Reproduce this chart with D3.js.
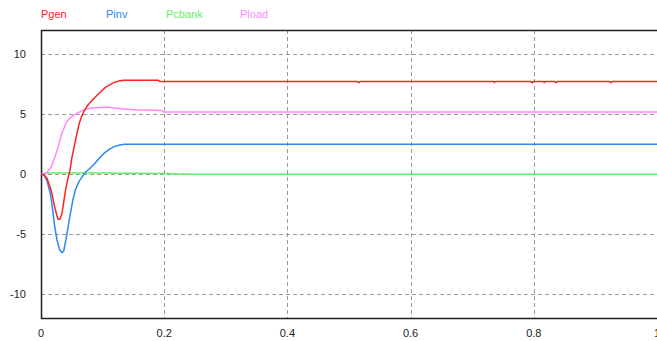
<!DOCTYPE html>
<html><head><meta charset="utf-8">
<script src="https://cdn.jsdelivr.net/npm/d3@7"></script>
<style>body{margin:0;background:#fff}svg{display:block}</style>
</head><body>
<svg id="c" width="657" height="341"></svg>
<script>
const seriesNames = ["Pgen","Pinv","Pcbank","Pload"];
const seriesColors = ["#ff2222","#2a88f0","#66ee66","#ff88ff"];
const xTicks = [0,0.2,0.4,0.6,0.8,1];
const yTicks = [-10,-5,0,5,10];

const pgen = [[0,0],[0.005,-0.05],[0.010,-0.4],[0.015,-1.1],[0.018,-1.7],[0.022,-2.7],[0.026,-3.5],[0.028,-3.8],[0.031,-3.75],[0.034,-3.3],[0.037,-2.3],[0.040,-1.3],[0.044,-0.3],[0.047,0.3],[0.050,1.3],[0.054,2.3],[0.058,3.3],[0.062,4.2],[0.066,4.8],[0.071,5.35],[0.077,5.8],[0.084,6.2],[0.090,6.5],[0.097,6.85],[0.104,7.2],[0.112,7.45],[0.120,7.65],[0.128,7.78],[0.135,7.82],[0.190,7.82],[0.193,7.7],[0.514,7.7],[0.516,7.6],[0.518,7.7],[0.735,7.7],[0.736,7.62],[0.737,7.7],[0.795,7.7],[0.797,7.6],[0.799,7.7],[0.816,7.7],[0.817,7.62],[0.818,7.7],[0.834,7.7],[0.836,7.6],[0.838,7.7],[0.923,7.7],[0.925,7.6],[0.927,7.7],[1.0,7.7]];
const pinv = [[0,0],[0.005,-0.1],[0.010,-0.6],[0.015,-1.6],[0.018,-2.6],[0.022,-4.3],[0.026,-5.5],[0.030,-6.3],[0.034,-6.55],[0.037,-6.4],[0.040,-5.6],[0.044,-4.4],[0.048,-3.2],[0.052,-2.1],[0.056,-1.3],[0.062,-0.6],[0.071,0.1],[0.080,0.5],[0.088,0.92],[0.096,1.4],[0.104,1.8],[0.112,2.1],[0.120,2.3],[0.128,2.42],[0.136,2.47],[1.0,2.47]];
const pcbank = [[0,0],[0.012,0.08],[0.100,0.08],[0.200,0.05],[0.250,-0.02],[1.0,-0.02]];
const pload = [[0,0],[0.005,0.02],[0.009,0.08],[0.017,0.63],[0.023,1.47],[0.028,2.3],[0.034,3.42],[0.042,4.38],[0.050,4.8],[0.061,5.13],[0.071,5.36],[0.082,5.5],[0.099,5.55],[0.107,5.58],[0.120,5.5],[0.136,5.42],[0.153,5.36],[0.196,5.3],[0.199,5.17],[1.0,5.17]];
const allSeries = [pgen,pinv,pcbank,pload];

(function(){
const svg = d3.select("#c");
const pL = 41, pR = 657, pT = 30, pB = 318;
const x = d3.scaleLinear().domain([0,1]).range([pL,pR]);
const y = d3.scaleLinear().domain([-12,12]).range([pB,pT]);
const font = "'Liberation Sans', Arial, sans-serif";

// grid
const g = svg.append("g");
g.selectAll("line.gx").data(xTicks.filter(t=>t>0&&t<1)).enter().append("line")
  .attr("x1",d=>Math.round(x(d))+0.5).attr("x2",d=>Math.round(x(d))+0.5).attr("y1",pT).attr("y2",pB)
  .attr("stroke","#999").attr("stroke-dasharray","4,3").attr("stroke-width",1);
g.selectAll("line.gy").data(yTicks).enter().append("line")
  .attr("x1",pL).attr("x2",pR).attr("y1",d=>Math.round(y(d))+0.5).attr("y2",d=>Math.round(y(d))+0.5)
  .attr("stroke","#999").attr("stroke-dasharray","4,3").attr("stroke-width",1);

// frame
svg.append("line").attr("x1",pL).attr("x2",pR).attr("y1",pT+0.5).attr("y2",pT+0.5).attr("stroke","#222").attr("stroke-width",1.5);
svg.append("line").attr("x1",pL).attr("x2",pR).attr("y1",pB+0.5).attr("y2",pB+0.5).attr("stroke","#222").attr("stroke-width",1.5);
svg.append("line").attr("x1",pL+0.5).attr("x2",pL+0.5).attr("y1",pT).attr("y2",pB+1).attr("stroke","#222").attr("stroke-width",1.5);

// tick labels
svg.selectAll("text.yt").data(yTicks).enter().append("text")
  .attr("x",26).attr("y",d=>y(d)+4).attr("text-anchor","end")
  .attr("font-family",font).attr("font-size",11).attr("fill","#222").text(d=>d);
svg.selectAll("text.xt").data(xTicks).enter().append("text")
  .attr("x",d=>x(d)).attr("y",337).attr("text-anchor","middle")
  .attr("font-family",font).attr("font-size",11).attr("fill","#222").text(d=>d);

// lines
const line = d3.line().x(d=>x(d[0])).y(d=>y(d[1]));
[2,3,1,0].forEach(i=>{
  svg.append("path").attr("d",line(allSeries[i])).attr("fill","none")
    .attr("stroke",seriesColors[i]).attr("stroke-width",1.5).attr("stroke-linejoin","round");
});

// legend
const legX = [41,106,166,240];
svg.selectAll("text.lg").data(seriesNames).enter().append("text")
  .attr("x",(d,i)=>legX[i]).attr("y",18).attr("font-family",font).attr("font-size",11)
  .attr("fill",(d,i)=>seriesColors[i]).text(d=>d);
})();
</script>
</body></html>
